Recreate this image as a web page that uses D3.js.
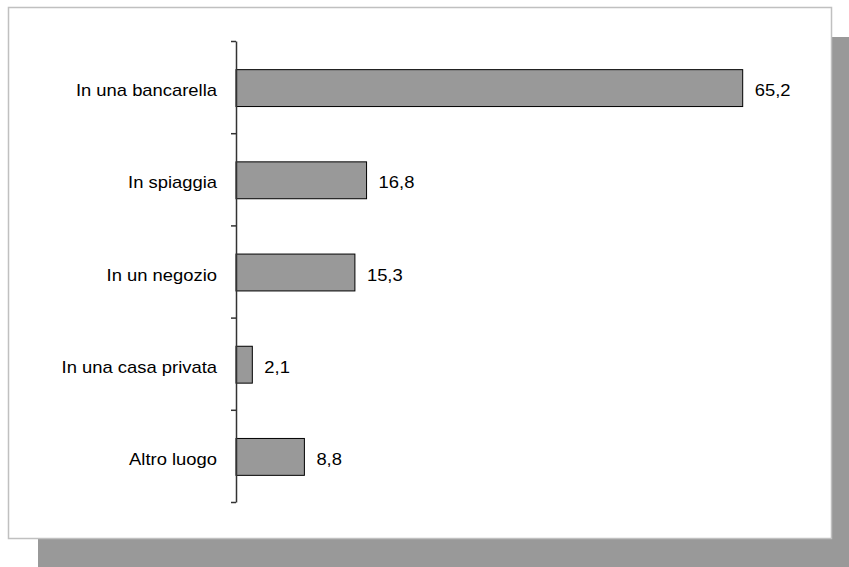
<!DOCTYPE html>
<html>
<head>
<meta charset="utf-8">
<script src="https://cdn.jsdelivr.net/npm/d3@7"></script>
<style>
  html, body { margin: 0; padding: 0; background: #fff; }
  svg { display: block; }
  text { font-family: "Liberation Sans", Arial, sans-serif; font-size: 16px; fill: #000; }
</style>
</head>
<body>
<script>
const categories = ["In una bancarella", "In spiaggia", "In un negozio", "In una casa privata", "Altro luogo"];
const values = [65.2, 16.8, 15.3, 2.1, 8.8];
const valueLabels = ["65,2", "16,8", "15,3", "2,1", "8,8"];

const W = 849, H = 567;
const svg = d3.select("body").append("svg").attr("width", W).attr("height", H);

// drop shadow behind the panel
svg.append("rect").attr("x", 38).attr("y", 37).attr("width", W - 38).attr("height", H - 37).attr("fill", "#999");
// white panel
svg.append("rect").attr("x", 8.5).attr("y", 7.5).attr("width", 823).attr("height", 531)
  .attr("fill", "#fff").attr("stroke", "#c0c0c0").attr("stroke-width", 1.5);

const x0 = 236, yTop = 41, yBot = 502;
const x = d3.scaleLinear().domain([0, 70]).range([x0, 780]);
const y = d3.scaleBand().domain(categories).range([yTop, yBot]).paddingInner(0.6).paddingOuter(0.3);
const yTicks = d3.scaleLinear().domain([0, categories.length]).range([yTop, yBot]);

// bars
svg.append("g").selectAll("rect").data(categories).join("rect")
  .attr("x", x(0))
  .attr("y", d => y(d) + 1)
  .attr("width", (d, i) => x(values[i]) - x(0))
  .attr("height", y.bandwidth())
  .attr("fill", "#999").attr("stroke", "#000").attr("stroke-width", 1);

// category axis with ticks at band boundaries
const axis = svg.append("g").attr("transform", `translate(${x0},0)`)
  .call(d3.axisLeft(yTicks).tickValues(d3.range(categories.length + 1)).tickSize(5).tickSizeOuter(0).tickFormat(""));
axis.select(".domain").attr("stroke", "#333").attr("stroke-width", 1.5);
axis.selectAll(".tick line").attr("stroke", "#333").attr("stroke-width", 1.5);

// category labels
svg.append("g").selectAll("text").data(categories).join("text")
  .attr("transform", d => `translate(217,${y(d) + y.bandwidth() / 2 + 9}) scale(1.15,1)`)
  .attr("text-anchor", "end")
  .text(d => d);

// value labels
svg.append("g").selectAll("text").data(categories).join("text")
  .attr("transform", (d, i) => `translate(${x(values[i]) + 12},${y(d) + y.bandwidth() / 2 + 9}) scale(1.15,1)`)
  .attr("text-anchor", "start")
  .text((d, i) => valueLabels[i]);
</script>
</body>
</html>
